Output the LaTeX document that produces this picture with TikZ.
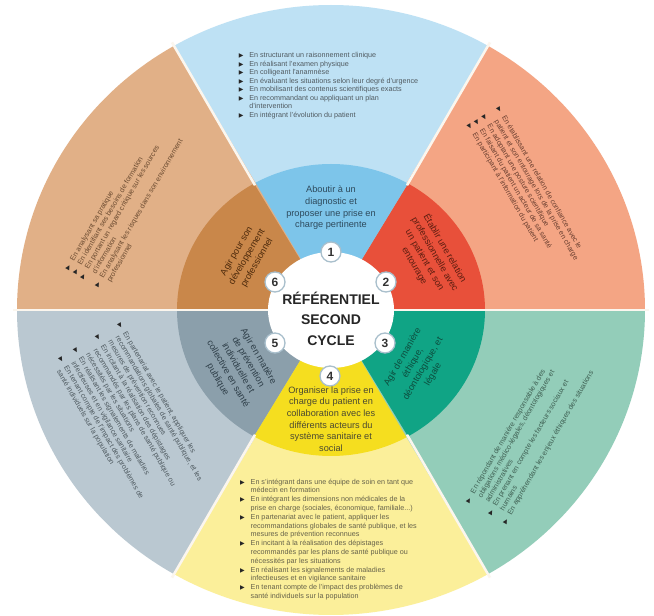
\documentclass[tikz,border=0pt]{standalone}
\usepackage{fontspec}
\setmainfont{Liberation Sans}
\newfontfamily\symfont{DejaVu Sans}
\usetikzlibrary{calc}

\definecolor{blueO}{HTML}{BEE1F4}
\definecolor{blueI}{HTML}{7DC5EA}
\definecolor{redO}{HTML}{F4A584}
\definecolor{redI}{HTML}{E8503A}
\definecolor{greenO}{HTML}{93CDB9}
\definecolor{greenI}{HTML}{10A485}
\definecolor{yelO}{HTML}{FBEF9A}
\definecolor{yelI}{HTML}{F5DE1F}
\definecolor{greyO}{HTML}{BAC8D1}
\definecolor{greyI}{HTML}{8B9FAB}
\definecolor{brownO}{HTML}{E1B087}
\definecolor{brownI}{HTML}{C9874A}
\definecolor{badgeline}{HTML}{A9BFCC}
\definecolor{sepline}{HTML}{FBF6EE}
% text colours
\definecolor{tBlueO}{HTML}{505A60}
\definecolor{tRedO}{HTML}{6B3F30}
\definecolor{tBrownO}{HTML}{6A4A30}
\definecolor{tGreyO}{HTML}{4F5A60}
\definecolor{tYelO}{HTML}{66624A}
\definecolor{tGreenO}{HTML}{3E5F52}
\definecolor{tBlueI}{HTML}{2E4A5C}
\definecolor{tRedI}{HTML}{5C1D10}
\definecolor{tBrownI}{HTML}{4D2A0C}
\definecolor{tGreyI}{HTML}{2E3E48}
\definecolor{tGreenI}{HTML}{0D4D3E}
\definecolor{tYelI}{HTML}{4B4A30}

\newlength\bulw \setlength\bulw{10.5pt}
\newcommand\bul{\makebox[\bulw][l]{\color{black!85}\symfont\fontsize{6}{6}\selectfont ▶}}

\tikzset{
  outtxt/.style={font=\fontsize{7.2}{8.5}\selectfont, inner sep=0pt},
  outtxtb/.style={font=\fontsize{7.2}{8.8}\selectfont, inner sep=0pt},
  intxt/.style={font=\fontsize{9.2}{11.7}\selectfont, align=center, inner sep=0pt},
  badge/.style={circle, fill=white, draw=badgeline, line width=1.3pt, minimum size=20pt,
    inner sep=0pt, font=\bfseries\fontsize{12}{12}\selectfont, text=black!80},
  titletxt/.style={align=center, font=\bfseries\fontsize{14}{20.5}\selectfont, text=black!85},
  sep/.style={sepline, line width=2.5pt}
}

\begin{document}
\begin{tikzpicture}[x=1pt,y=1pt]
\useasboundingbox (0,0) rectangle (654,616);
\fill[white] (0,0) rectangle (654,616);
\coordinate (C) at (331,306);

% sectors
\foreach \a/\co/\ci in {0/redO/redI, 60/blueO/blueI, 120/brownO/brownI,
                         180/greyO/greyI, 240/yelO/yelI, 300/greenO/greenI}{
  \fill[\co] (C) -- ++(\a:314 and 305) arc[start angle=\a, end angle=\a+60, x radius=314, y radius=305] -- cycle;
  \fill[\ci] (C) -- ++(\a:154 and 146) arc[start angle=\a, end angle=\a+60, x radius=154, y radius=146] -- cycle;
}

% separators
\foreach \a in {60,120,240,300}{
  \draw[sep] ($(C)+(\a:152 and 144)$) -- ($(C)+(\a:318 and 309)$);
}
\draw[sepline, line width=2pt] ($(C)+(-318,0)$) -- ($(C)+(318,0)$);

% white centre
\fill[white] (C) ellipse[x radius=63, y radius=58];

% badges
\node[badge] (b1) at (331,364) {1};
\node[badge] (b2) at (386,334) {2};
\node[badge] (b3) at (385,273) {3};
\node[badge] (b4) at (330,240) {4};
\node[badge] (b5) at (275,273) {5};
\node[badge] (b6) at (275,334) {6};

% title
\node[titletxt] (title) at (331,297.5) {RÉFÉRENTIEL\\SECOND\\CYCLE};

% inner texts
\node[intxt, text=tBlueI] (i1) at ($(C)+(0,102)$) {Aboutir à un\\diagnostic et\\proposer une prise en\\charge pertinente};
\node[intxt, text=tRedI, rotate=-60] (i2) at ($(C)+(99,53)$) {Établir une relation\\professionnelle avec\\un patient et son\\entourage};
\node[intxt, text=tGreenI, rotate=60] (i3) at ($(C)+(87,-56)$) {Agir de manière\\éthique,\\déontologique, et\\légale};
\node[intxt, text=tYelI] (i4) at ($(C)+(0,-109)$) {Organiser la prise en\\charge du patient en\\collaboration avec les\\différents acteurs du\\système sanitaire et\\social};
\node[intxt, text=tGreyI, rotate=-60] (i5) at ($(C)+(-93,-58)$) {Agir en matière\\de prévention\\individuelle et\\collective en santé\\publique};
\node[intxt, text=tBrownI, rotate=60] (i6) at ($(C)+(-84,53)$) {Agir pour son\\développement\\professionnel};

% outer texts
\node[outtxt, text=tBlueO] (o1) at ($(C)+(-2.5,224)$) {\begin{tabular}{@{}l@{}l@{}}
\bul & En structurant un raisonnement clinique\\
\bul & En réalisant l'examen physique\\
\bul & En colligeant l'anamnèse\\
\bul & En évaluant les situations selon leur degré d'urgence\\
\bul & En mobilisant des contenus scientifiques exacts\\
\bul & En recommandant ou appliquant un plan\\
     & d'intervention\\
\bul & En intégrant l'évolution du patient
\end{tabular}};

\node[outtxt, text=tRedO, rotate=-60] (o2) at ($(C)+(195,120)$) {\begin{tabular}{@{}l@{}l@{}}
\bul & En établissant une relation de confiance avec le\\
     & patient et son entourage lors de la prise en charge\\
\bul & En adoptant une posture scientifique\\
\bul & En faisant du patient un acteur de sa santé\\
\bul & En participant à l'information du patient
\end{tabular}};

\node[outtxt, text=tGreenO, rotate=60] (o3) at ($(C)+(199,-127)$) {\begin{tabular}{@{}l@{}l@{}}
\bul & En répondant de manière responsable à des\\
     & obligations médico-légales, déontologiques et\\
     & administratives\\
\bul & En prenant en compte les facteurs sociaux et\\
     & humains\\
\bul & En appréhendant les enjeux éthiques des situations
\end{tabular}};

\node[outtxtb, text=tYelO] (o4) at ($(C)+(-2.5,-229.5)$) {\begin{tabular}{@{}l@{}l@{}}
\bul & En s'intégrant dans une équipe de soin en tant que\\
     & médecin en formation\\
\bul & En intégrant les dimensions non médicales de la\\
     & prise en charge (sociales, économique, familiale...)\\
\bul & En partenariat avec le patient, appliquer les\\
     & recommandations globales de santé publique, et les\\
     & mesures de prévention reconnues\\
\bul & En incitant à la réalisation des dépistages\\
     & recommandés par les plans de santé publique ou\\
     & nécessités par les situations\\
\bul & En réalisant les signalements de maladies\\
     & infectieuses et en vigilance sanitaire\\
\bul & En tenant compte de l'impact des problèmes de\\
     & santé individuels sur la population
\end{tabular}};

\node[outtxt, text=tGreyO, rotate=-60] (o5) at ($(C)+(-201,-109)$) {\begin{tabular}{@{}l@{}l@{}}
\bul & En partenariat avec le patient, appliquer les\\
     & recommandations globales de santé publique, et les\\
     & mesures de prévention reconnues\\
\bul & En incitant à la réalisation des dépistages\\
     & recommandés par les plans de santé publique ou\\
     & nécessités par les situations\\
\bul & En réalisant les signalements de maladies\\
     & infectieuses et en vigilance sanitaire\\
\bul & En tenant compte de l'impact des problèmes de\\
     & santé individuels sur la population
\end{tabular}};

\node[outtxt, text=tBrownO, rotate=60] (o6) at ($(C)+(-203,103)$) {\begin{tabular}{@{}l@{}l@{}}
\bul & En analysant sa pratique\\
\bul & En identifiant ses besoins de formation\\
\bul & En portant un regard critique sur les sources\\
     & d'information\\
\bul & En analysant les risques dans son environnement\\
     & professionnel
\end{tabular}};
\end{tikzpicture}
\end{document}
